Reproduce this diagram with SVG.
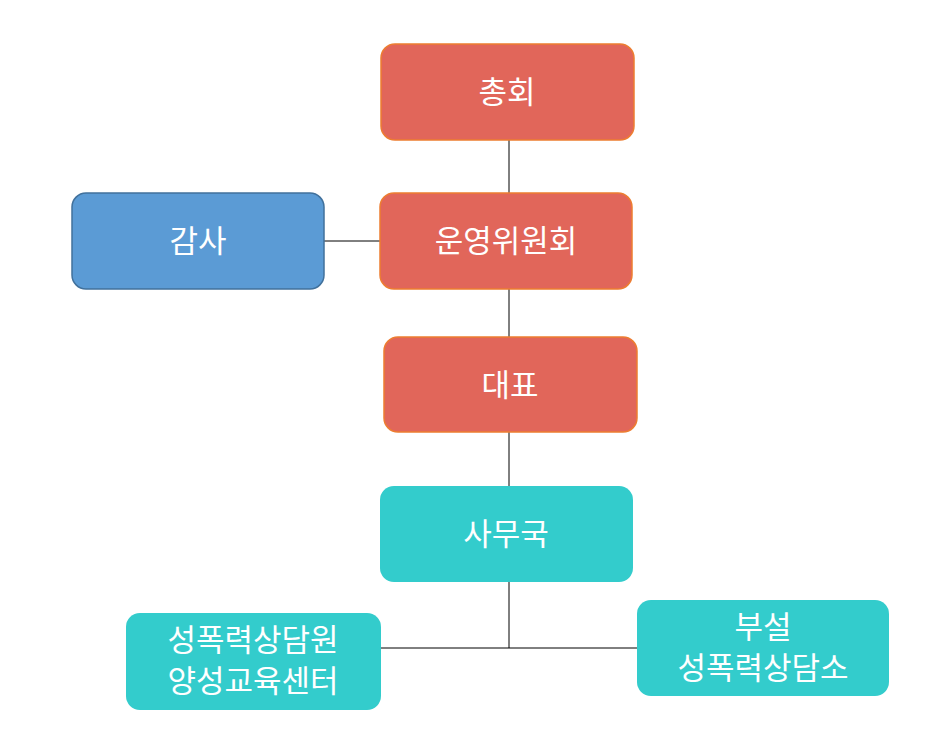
<svg xmlns="http://www.w3.org/2000/svg" width="943" height="750" viewBox="0 0 943 750">
<style>
.red{fill:#E1665A;stroke:#ED7D31;stroke-width:1.5}
.blue{fill:#5B9BD5;stroke:#41719C;stroke-width:1.5}
.teal{fill:#33CCCC}
text{font-family:"Noto Sans CJK KR","Noto Sans",sans-serif;font-size:31px;fill:#fff;text-anchor:middle}
.c line{stroke:#000;stroke-width:1}
</style>
<rect width="943" height="750" fill="#fff"/>
<g class="c">
<line x1="509" y1="140" x2="509" y2="193"/>
<line x1="509" y1="289" x2="509" y2="337"/>
<line x1="509" y1="432" x2="509" y2="486"/>
<line x1="509" y1="582" x2="509" y2="648"/>
<line x1="324" y1="241" x2="380" y2="241"/>
<line x1="381" y1="648" x2="637" y2="648"/>
</g>
<g id="n1"><rect class="red" x="381" y="44" width="253" height="96" rx="14"/><text x="507" y="103">총회</text></g>
<g id="n2"><rect class="red" x="380" y="193" width="252" height="96" rx="14"/><text x="506" y="252">운영위원회</text></g>
<g id="n3"><rect class="blue" x="72" y="193" width="252" height="96" rx="14"/><text x="198" y="252">감사</text></g>
<g id="n4"><rect class="red" x="384" y="337" width="253" height="95" rx="14"/><text x="510" y="396">대표</text></g>
<g id="n5"><rect class="teal" x="380" y="486" width="253" height="96" rx="14"/><text x="506" y="545">사무국</text></g>
<g id="n6"><rect class="teal" x="126" y="613" width="255" height="97" rx="14"/><text x="253" y="651">성폭력상담원</text><text x="253" y="692">양성교육센터</text></g>
<g id="n7"><rect class="teal" x="637" y="600" width="252" height="96" rx="14"/><text x="763" y="638">부설</text><text x="763" y="679">성폭력상담소</text></g>
</svg>
